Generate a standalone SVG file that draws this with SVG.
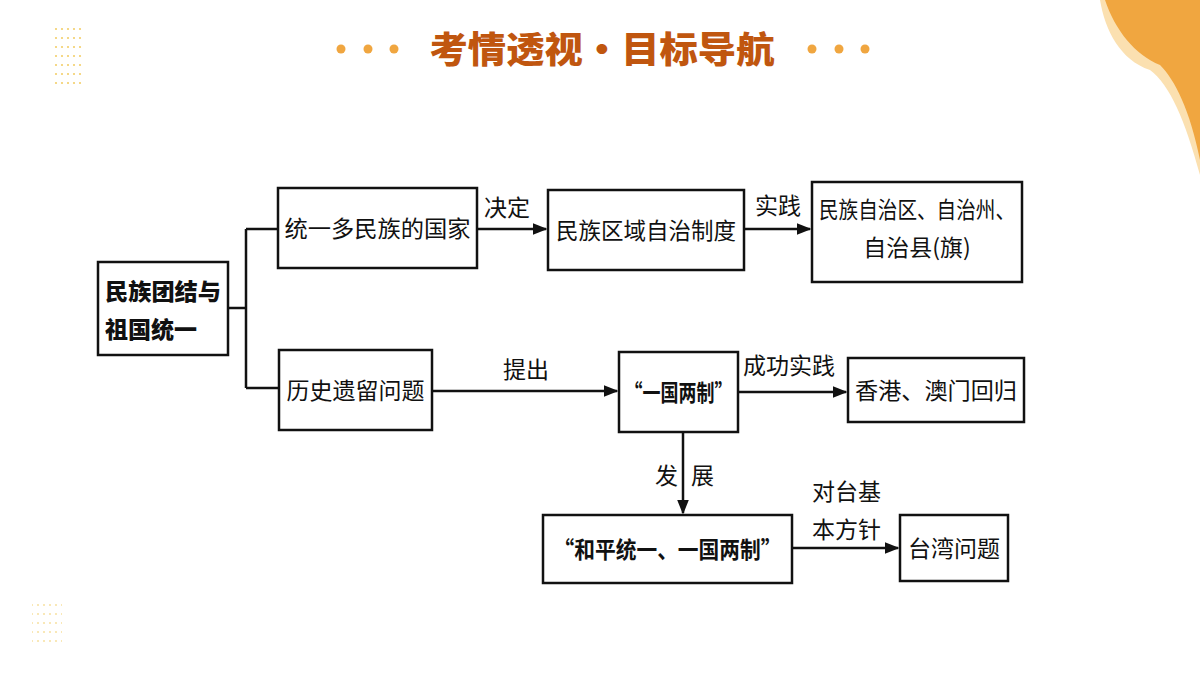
<svg xmlns="http://www.w3.org/2000/svg" width="1200" height="675" viewBox="0 0 1200 675">
<defs>
<style>
.b{fill:#fff;stroke:#111;stroke-width:2.5}
.t{font-family:"Noto Sans CJK SC","Liberation Sans",sans-serif;font-size:23px;fill:#111}
.c{fill:none;stroke:#111;stroke-width:2.5}
.d{fill:#f0a640}
</style>
<marker id="a" viewBox="0 0 10 10" refX="9" refY="5" markerWidth="6" markerHeight="6" orient="auto"><path d="M0,1 L10,5 L0,9 z" fill="#111"/></marker>
<pattern id="g" width="6" height="9" patternUnits="userSpaceOnUse"><circle cx="2" cy="2" r="1.1" fill="#f3cf6a"/></pattern>
</defs>
<rect width="1200" height="675" fill="#fff"/>
<path d="M1100,0 H1200 V175 C1185,120 1170,85 1150,70 C1120,60 1105,30 1100,0 z" fill="#fbe0b0"/>
<path d="M1105,0 H1200 V160 C1190,110 1175,80 1160,65 C1135,55 1115,30 1105,0 z" fill="#f0a640"/>
<rect x="52" y="28" width="30" height="60" fill="url(#g)"/>
<rect x="32" y="604" width="30" height="42" fill="url(#g)" opacity="0.6"/>
<g id="title">
<circle class="d" cx="341" cy="49" r="4.5"/><circle class="d" cx="368" cy="49" r="4.5"/><circle class="d" cx="394" cy="49" r="4.5"/>
<circle class="d" cx="812" cy="49" r="4.5"/><circle class="d" cx="839" cy="49" r="4.5"/><circle class="d" cx="865" cy="49" r="4.5"/>
<text x="602" y="63" text-anchor="middle" font-family="Noto Sans CJK SC,sans-serif" font-size="36" font-weight="900" fill="#c0560f" textLength="345" lengthAdjust="spacingAndGlyphs">考情透视•目标导航</text>
</g>
<g id="connectors">
<path class="c" d="M228,308 H246 M246,229 V388 M246,229 H278 M246,388 H279"/>
<path class="c" d="M477,229 H546" marker-end="url(#a)"/>
<path class="c" d="M744,229 H810" marker-end="url(#a)"/>
<path class="c" d="M432,391 H617" marker-end="url(#a)"/>
<path class="c" d="M738,392 H846" marker-end="url(#a)"/>
<path class="c" d="M683,432 V513" marker-end="url(#a)"/>
<path class="c" d="M792,548 H898" marker-end="url(#a)"/>
<text class="t" x="484" y="216">决定</text>
<text class="t" x="755" y="214">实践</text>
<text class="t" x="503" y="378">提出</text>
<text class="t" x="743" y="374">成功实践</text>
<text class="t" x="655" y="484">发</text><text class="t" x="691" y="484">展</text>
<text class="t" x="812" y="500">对台基</text>
<text class="t" x="812" y="538">本方针</text>
</g>
<g id="n0"><rect class="b" x="98" y="262" width="130" height="93"/>
<text class="t" x="105" y="300" font-weight="900" textLength="116" lengthAdjust="spacingAndGlyphs">民族团结与</text><text class="t" x="105" y="338" font-weight="900">祖国统一</text></g>
<g id="n1"><rect class="b" x="278" y="188" width="199" height="80"/><text class="t" x="377.5" y="237" text-anchor="middle" textLength="186" lengthAdjust="spacingAndGlyphs">统一多民族的国家</text></g>
<g id="n2"><rect class="b" x="279" y="350" width="153" height="80"/><text class="t" x="355.5" y="399" text-anchor="middle">历史遗留问题</text></g>
<g id="n3"><rect class="b" x="548" y="190" width="196" height="80"/><text class="t" x="646" y="239" text-anchor="middle" textLength="180" lengthAdjust="spacingAndGlyphs">民族区域自治制度</text></g>
<g id="n4"><rect class="b" x="812" y="182" width="210" height="100"/><text class="t" x="917" y="218" text-anchor="middle" textLength="196" lengthAdjust="spacingAndGlyphs">民族自治区、自治州、</text><text class="t" x="917" y="256" text-anchor="middle">自治县(旗)</text></g>
<g id="n5"><rect class="b" x="619" y="352" width="119" height="80"/><text class="t" x="678.5" y="401" text-anchor="middle" font-weight="bold" textLength="108" lengthAdjust="spacingAndGlyphs">“一国两制”</text></g>
<g id="n6"><rect class="b" x="848" y="358" width="176" height="64"/><text class="t" x="936" y="399" text-anchor="middle" textLength="162" lengthAdjust="spacingAndGlyphs">香港、澳门回归</text></g>
<g id="n7"><rect class="b" x="543" y="515" width="249" height="68"/><text class="t" x="667.5" y="558" text-anchor="middle" font-weight="bold" textLength="228" lengthAdjust="spacingAndGlyphs">“和平统一、一国两制”</text></g>
<g id="n8"><rect class="b" x="900" y="515" width="108" height="66"/><text class="t" x="954" y="557" text-anchor="middle">台湾问题</text></g>
</svg>
